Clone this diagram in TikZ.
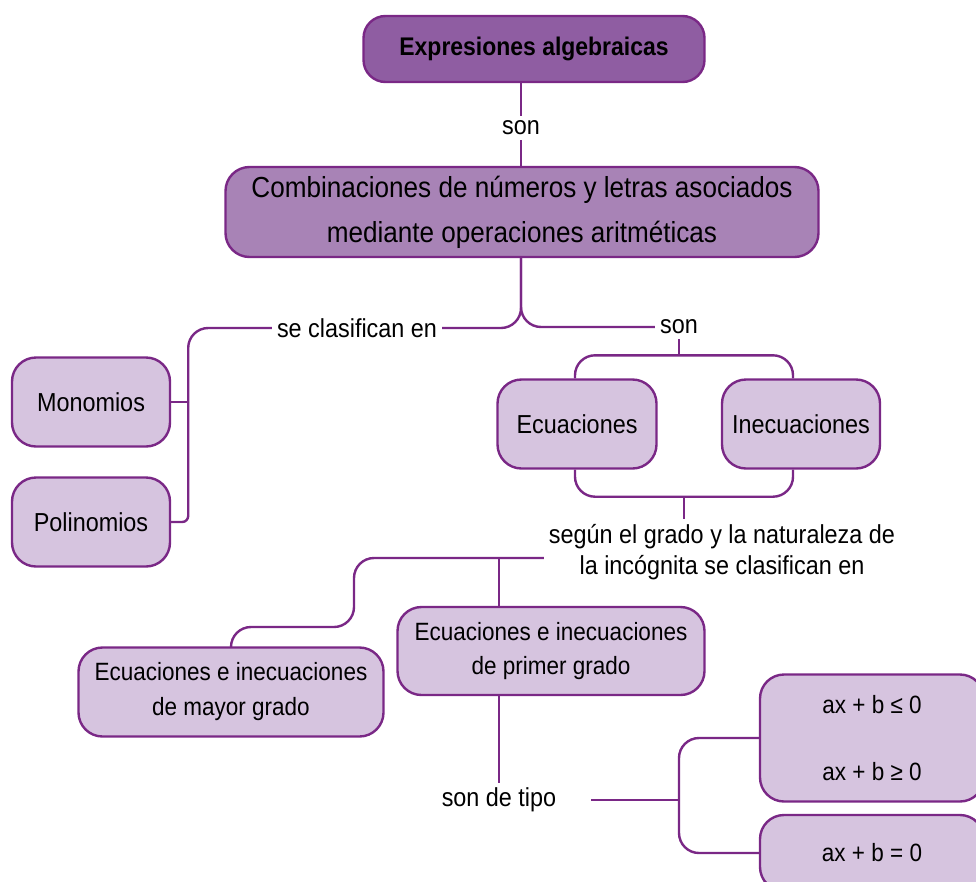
\documentclass[tikz,border=0pt]{standalone}
\usepackage{fontspec}
\setmainfont[FakeStretch=0.9]{Liberation Sans}
\usetikzlibrary{calc,positioning}
\definecolor{Violeta}{RGB}{122,40,134}
\definecolor{MoradoOsc}{RGB}{143,93,162}
\definecolor{MoradoMed}{RGB}{168,131,182}
\definecolor{Lila}{RGB}{214,196,223}

\begin{document}
\begin{tikzpicture}[x=1pt,y=-1pt,
       Violeta, text=black, line width=2.4pt,
       every node/.style={font=\fontsize{26}{31}\selectfont},
       concept/.style 2 args = {rectangle, rounded corners=24pt, draw=Violeta,
                                fill=#2, minimum width=#1, minimum height=89pt,
                                align=center, inner sep=2pt},
       nexo/.style = {inner sep=4pt, align=center},
       link/.style = {rounded corners=20pt}]

	\useasboundingbox (0,0) rectangle (976,881);
	\clip (0,0) rectangle (976,881);

	%% Main concepts
	\node[concept={341pt}{MoradoOsc}, minimum height=66pt, rounded corners=22pt,
	      font=\fontsize{25.5}{31}\selectfont\bfseries] (expr) at (534,49) {Expresiones algebraicas};
	\node[nexo] (son1) at (521,128) {son};
	\node[concept={593pt}{MoradoMed}, minimum height=90pt,
	      font=\fontsize{29}{45}\selectfont] (comb) at (522,212)
	      {Combinaciones de números y letras asociados\\mediante operaciones aritméticas};

	%% Classification
	\node[nexo] (clasif) at (357,328) {se clasifican en};
	\node[nexo] (son2) at (679,327) {son};
	\node[concept={158pt}{Lila}] (mono) at (91,402) {Monomios};
	\node[concept={158pt}{Lila}] (poli) at (91,522) {Polinomios};
	\node[concept={159pt}{Lila}] (ecu) at (577,424) {Ecuaciones};
	\node[concept={158pt}{Lila}] (inecu) at (801,424) {Inecuaciones};

	%% Degree
	\node[nexo] (segun) at (722,552) {según el grado y la naturaleza de\\la incógnita se clasifican en};
	\node[concept={305pt}{Lila}, font=\fontsize{25}{35}\selectfont] (mayor) at (231,692)
	      {Ecuaciones e inecuaciones\\de mayor grado};
	\node[concept={307pt}{Lila}, minimum height=88pt, font=\fontsize{25}{34}\selectfont] (primer) at (551,651)
	      {Ecuaciones e inecuaciones\\de primer grado};
	\node[nexo] (tipo) at (499,800) {son de tipo};
	\node[concept={224pt}{Lila}, minimum height=127pt, font=\fontsize{25}{67}\selectfont] (ineq) at (872,738)
	      {ax + b ≤ 0\\ax + b ≥ 0};
	\node[concept={224pt}{Lila}, minimum height=76pt, font=\fontsize{25}{31}\selectfont] (eq) at (872,853) {ax + b = 0};

	%% Connectors
	\draw (expr.south -| son1.north) -- (son1.north);
	\draw (son1.south) -- (son1.south |- comb.north);
	\draw[link] (comb.south -| son1.south) |- (clasif.east);
	\draw[link] (comb.south -| son1.south) |- (son2.west);

	\coordinate (rama) at ($(mono.east)+(17,0)$);
	\draw[link] (clasif.west) -| (rama);
	\draw[rounded corners=6pt] (rama) |- (poli.east);
	\draw (mono.east) -- (rama);

	\draw[link] ([xshift=-2pt]ecu.north) -- ++(0,-23) coordinate (barra) -| ([xshift=-8pt]inecu.north);
	\draw (son2.south) -- (son2.south |- barra);
	\draw[link] ([xshift=-2pt]ecu.south) -- ++(0,27) coordinate (barra2) -| ([xshift=-8pt]inecu.south);
	\draw ($(barra2)!.5!(barra2 -| inecu.south)+(-4,0)$) coordinate (medio) -- (medio |- segun.north);

	\coordinate (quiebre) at (354,627);
	\coordinate (eje) at ($(primer.north)+(-52,0)$);
	\draw[link] ([yshift=-6pt]segun.west) -| (quiebre) -| (mayor.north);
	\draw ([yshift=-6pt]eje |- segun.west) -- (eje);
	\draw (eje |- primer.south) -- (tipo.north);

	\coordinate (horq) at (679,800);
	\draw[shorten <=30pt] (tipo.east) -- (horq);
	\draw[link] (ineq.west) -| (horq) |- (eq.west);
\end{tikzpicture}
\end{document}
